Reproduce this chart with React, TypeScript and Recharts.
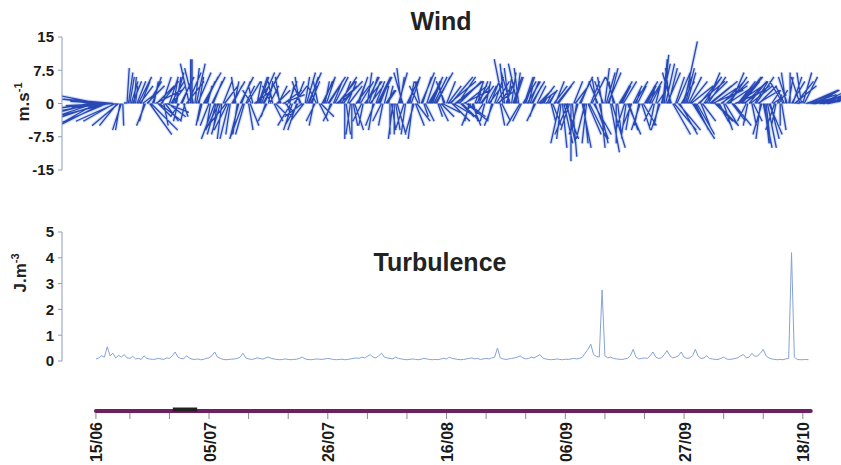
import { ComposedChart, Line, XAxis, YAxis } from "recharts";

const FONT = '"Liberation Sans", Arial, Helvetica, sans-serif';

// wind vectors, one stick every 12 h from 14/06 00h (day -1), m/s
const windStartDay = -1;
const windStepDays = 0.5;
const windU = [
  -6, -8, -7, -10, -9, -11, -12, -10, -11, -9,
  -6, -2, 0.3, 0.5, 1, 2, 0.5, 3, 2, -1,
  4, 5, 2, 6, 3, 4, 1, 5, 2, 3,
  2, -1, 3, 1, 4, -2, 0, 1, 3, -1,
  4, 2, -2, 3, -3, -1, -2, 2, -4, -2,
  3, 1, -1, 3, -3, 2, 1, -2, 4, 1,
  2, 4, -1, 1, -2, 2, 3, -1, 5, 2,
  2, -3, 3, -2, -1, -4, 1, 3, 2, -1,
  -2, 2, 3, 1, 4, -1, 2, 5, 4, 2,
  0, 2, -1, 1, 3, 2, -2, 4, 1, 3,
  -1, 2, 3, -2, 1, 2, 0, -1, 1, 2,
  -1, -2, 3, 1, -1, 2, -2, 3, 1, 2,
  3, 2, 4, 1, 3, -1, 2, 6, 4, 5,
  4, 3, 6, 5, -1, 2, 2, 1, 3, -2,
  1, 3, -1, 2, 4, 1, -2, 2, -1, 1,
  2, -2, -3, 3, 2, 1, 3, -1, 2, 4,
  1, 0.5, 2, 1, 3, 4, -2, 1, 3, -3,
  0, 2, -1, 3, 2, -2, 3, 2, 4, -1,
  2, -1, 1, 3, 2, -1, 0, 3, 2, -2,
  3, -1, 2, 1, -1, 2, 3, 2, 1, -2,
  1, -1, 2, 1, 3, -1, 4, 2, 5, 3,
  3, 2, 4, 5, 3, 6, 2, 4, 3, 5,
  7, 4, 3, 6, 2, 5, 4, 3, 7, 4,
  5, 6, -2, 4, 1, 3, 5, -1, 2, 1,
  3, 2, -2, 1, 0, -3, -1, 1, 3, 5,
  0.5, -2, 2, 6, 7, 8, 6, 5, 7, 4,
  6, 5,
];
const windV = [
  1, -2, -4, 2, -3, -1, -5, -0.5, 1, -4,
  -5, -6, 0.3, 8, 6, 5, 4, 6, 5, -4,
  4, -7, 6, 3, -3, 5, -5, -2, 6, 4,
  7, -4, 6, -3, 5, 9, 10, 8, 7, -5,
  7, 5, -5, 6, -8, -6, -7, 5, -5, -8,
  5, 5, -7, 6, -8, 4, -6, 3, 3, 5,
  6, 7, -3, 5, 4, -4, 3, 6, 2, -2,
  5, -5, 4, -6, 6, -3, 6, 7, 5, -5,
  4, -4, 6, 5, 6, -3, 5, 4, 6, 5,
  -8, 5, -7, -5, 4, 6, -4, 5, 7, 4,
  -6, 5, 6, -4, 4, 3, -7, -8, -6, 7,
  8, -6, 6, 5, -8, -5, 4, 7, -3, 6,
  6, 5, 7, -3, -3, 4, 5, 5, -4, 4,
  6, -3, 3, -4, -4, -5, 5, 4, 4, -3,
  5, 4, -4, 6, 3, -5, 10, 5, 8, 7,
  6, 9, -5, 5, 6, 4, 5, -3, 4, 3,
  2, 0.3, 3, -4, 4, 5, -9, -10, -8, -7,
  -13, 5, -6, 6, -10, -8, -7, 5, -7, 6,
  -9, 6, 8, 7, -11, 5, -9, 5, 4, -6,
  -7, -6, 4, 3, -5, -6, 5, 4, 3, -4,
  4, -5, 9, 11, 7, 8, -7, 6, -6, 5,
  14, 7, 5, -8, -6, 5, -5, 6, 7, 4,
  3, -4, -5, 4, -6, 5, 6, -4, 3, 5,
  6, 4, -4, 5, -5, 5, 3, -8, -10, -9,
  -7, 3, -6, 2, -5, 5, 7, 6, 5, 4,
  0.2, 6, 7, 2, 3, 2, 1, 3, 1, 0.5,
  2, 1,
];
// the 06h / 18h readings in between
const windStartDay2 = -0.75;
const windU2 = [
  -7, -9, -8, -11, -10, -8, -12, -9, -7, -4,
  -1, 0.2, 0.3, 1, 1.5, 0.5, 2, 3, 4, -2,
  3, 6, 1, 4, 5, 2, 3, 4, 3, 1,
  1, -2, 2, -1, 3, 0, -2, 2, 1, -1,
  3, 1, -1, 2, -2, -3, -1, 3, -3, -1,
  2, -1, -2, 2, -2, 3, 2, -1, 3, 2,
  3, 3, -2, 2, -1, 3, 2, -2, 4, 1,
  1, -2, 2, -3, -2, -3, 2, 2, 1, -2,
  -1, 3, 2, 2, 3, -2, 3, 4, 5, 3,
  1, 3, 0, 2, 2, 3, -1, 3, 2, 2,
  -2, 3, 2, -1, 2, 1, 1, 0, 2, 1,
  -2, -1, 2, 2, -2, 3, -1, 2, 2, 3,
  2, 3, 3, 2, 4, -2, 3, 5, 5, 6,
  5, 4, 5, 4, -2, 1, 3, 2, 2, -1,
  2, 2, -2, 3, 3, 2, -1, 1, -2, 2,
  1, -1, -2, 2, 3, 2, 2, -2, 3, 3,
  0.5, 1, 1, 2, 2, 3, -1, 2, 2, -2,
  1, 3, -2, 2, 1, -1, 4, 3, 3, -2,
  1, -2, 2, 2, 3, -2, 1, 2, 3, -1,
  2, -2, 3, 2, -2, 3, 2, 3, 2, -1,
  2, -2, 1, 2, 2, -2, 5, 3, 4, 2,
  2, 3, 5, 4, 4, 5, 3, 5, 4, 6,
  6, 5, 2, 5, 3, 6, 3, 4, 6, 5,
  4, 5, -1, 5, 2, 4, 4, -2, 1, 2,
  2, 3, -1, 2, 1, -2, -2, 0, 2, 4,
  1, -1, 3, 7, 6, 7, 8, 6, 6, 5,
  5, 4,
];
const windV2 = [
  -1, -3, 1, -2, -5, 0.5, -3, -1, -4, -5,
  -6, -5, 0.2, 7, 5, 6, 5, 4, 3, -5,
  5, -6, 5, 4, -4, 6, -4, -3, 5, 6,
  6, -3, 5, -4, 7, 10, 8, 9, 6, -4,
  6, 4, -6, 5, -7, -6, -8, 4, -6, -7,
  4, 6, -8, 5, -7, 5, -5, 4, 4, 6,
  7, 6, -4, 4, 5, -3, 4, 5, 3, -3,
  4, -6, 5, -5, 5, -4, 7, 6, 4, -4,
  5, -3, 5, 6, 5, -4, 6, 5, 5, 4,
  -7, 4, -8, -6, 5, 5, -5, 6, 6, 5,
  -5, 6, 5, -5, 3, 4, -6, -7, -7, 6,
  7, -7, 5, 6, -7, -4, 5, 6, -4, 5,
  5, 6, 6, -4, -2, 5, 4, 6, -3, 5,
  5, -4, 4, -3, -5, -4, 4, 5, 3, -4,
  4, 5, -5, 5, 4, -4, 9, 6, 7, 6,
  7, 8, -4, 6, 5, 5, 4, -4, 3, 4,
  1, 2, 2, -5, 5, 4, -8, -9, -9, -6,
  -12, 4, -7, 5, -9, -9, -8, 6, -8, 5,
  -10, 5, 7, 8, -10, 6, -8, 4, 5, -7,
  -6, -5, 5, 4, -6, -5, 4, 5, 4, -5,
  3, -6, 10, 9, 8, 7, -6, 7, -7, 6,
  8, 6, 4, -7, -7, 6, -4, 5, 6, 5,
  4, -5, -4, 5, -5, 4, 7, -5, 4, 6,
  5, 5, -5, 4, -4, 6, 4, -7, -9, -10,
  -8, 2, -5, 3, -6, 4, 6, 7, 6, 5,
  0.5, 7, 6, 3, 2, 1, 2, 2, 3, 1,
  1, 2,
];

// turbulence, every 12 h from 15/06, J/m3
const turbStartDay = 0;
const turbStepDays = 0.5;
const turbulence = [
  0.08, 0.12, 0.2, 0.15, 0.55, 0.2, 0.3, 0.12, 0.22, 0.15,
  0.25, 0.12, 0.1, 0.18, 0.08, 0.1, 0.06, 0.2, 0.1, 0.08,
  0.06, 0.07, 0.1, 0.08, 0.06, 0.12, 0.1, 0.2, 0.35, 0.15,
  0.1, 0.08, 0.2, 0.12, 0.07, 0.06, 0.08, 0.05, 0.06, 0.1,
  0.12, 0.2, 0.35, 0.15, 0.1, 0.06, 0.05, 0.06, 0.07, 0.08,
  0.1, 0.15, 0.3, 0.12, 0.08, 0.06, 0.08, 0.12, 0.1, 0.07,
  0.12, 0.15, 0.1, 0.08, 0.06, 0.05, 0.06, 0.08, 0.06, 0.05,
  0.06, 0.07, 0.1, 0.15, 0.08, 0.06, 0.05, 0.06, 0.08, 0.07,
  0.06, 0.08, 0.1, 0.08, 0.06, 0.05, 0.06, 0.07, 0.05, 0.06,
  0.08, 0.1, 0.12, 0.1, 0.15, 0.12, 0.18, 0.25, 0.15, 0.12,
  0.2, 0.3, 0.15, 0.12, 0.1, 0.08, 0.15, 0.1, 0.08, 0.06,
  0.05, 0.06, 0.08, 0.06, 0.05, 0.07, 0.1, 0.08, 0.06, 0.05,
  0.06, 0.05, 0.08, 0.1, 0.08, 0.15, 0.1, 0.08, 0.06, 0.05,
  0.06, 0.08, 0.1, 0.12, 0.08, 0.1, 0.06, 0.08, 0.1, 0.08,
  0.12, 0.15, 0.5, 0.12, 0.08, 0.06, 0.08, 0.1, 0.12, 0.15,
  0.2, 0.12, 0.08, 0.1, 0.15, 0.12, 0.18, 0.25, 0.12, 0.08,
  0.06, 0.05, 0.06, 0.08, 0.06, 0.05, 0.07, 0.06, 0.08, 0.1,
  0.08, 0.1, 0.15, 0.3, 0.45, 0.65, 0.25, 0.18, 0.15, 2.75,
  0.2, 0.12, 0.15, 0.1, 0.08, 0.07, 0.06, 0.08, 0.1, 0.2,
  0.45, 0.15, 0.08, 0.1, 0.12, 0.1, 0.2, 0.35, 0.15, 0.1,
  0.12, 0.25, 0.4, 0.2, 0.12, 0.15, 0.2, 0.35, 0.15, 0.1,
  0.12, 0.2, 0.45, 0.18, 0.1, 0.12, 0.2, 0.1, 0.08, 0.06,
  0.06, 0.1, 0.15, 0.08, 0.06, 0.07, 0.1, 0.12, 0.2, 0.25,
  0.12, 0.15, 0.3, 0.18, 0.2, 0.3, 0.45, 0.2, 0.12, 0.08,
  0.06, 0.05, 0.06, 0.05, 0.08, 0.1, 4.2, 0.15, 0.06, 0.05,
  0.05, 0.06, 0.05,
];

// time axis (days since 15/06)
const dateTickDays = [0, 20, 41, 62, 83, 104, 125];
const dateTickLabels = ["15/06", "05/07", "26/07", "16/08", "06/09", "27/09", "18/10"];
const weekTickDays = [6, 13, 27, 34, 48, 55, 69, 76, 90, 97, 111, 118];
const recordSpan = [0, 126.4];
const blackSpan = [13.6, 17.9];

const windTicks = [-15, -7.5, 0, 7.5, 15];
const turbTicks = [0, 1, 2, 3, 4, 5];

// layout
const W = 841;
const AXIS_X = 62;
const X_DOMAIN: [number, number] = [-6, 131.75];
const WIND_PLOT_H = 133;
const pxPerDay = (W - AXIS_X) / (X_DOMAIN[1] - X_DOMAIN[0]);
const pxPerMs = WIND_PLOT_H / 30;
const U_TO_DAYS = pxPerMs / pxPerDay;

// each stick: origin on the zero line, tip at (u, v), then a break
const toSticks = (us: number[], vs: number[], start: number) =>
  us.flatMap((u, i) => {
    const t = start + i * windStepDays;
    return [
      { x: t, y: 0 },
      { x: t + u * U_TO_DAYS, y: vs[i] },
      { x: t, y: null },
    ];
  });

const windSticks = [
  ...toSticks(windU, windV, windStartDay),
  ...toSticks(windU2, windV2, windStartDay2),
];

const turbData = turbulence.map((v, i) => ({ x: turbStartDay + i * turbStepDays, y: v }));

const allTicks = [...dateTickDays, ...weekTickDays].sort((a, b) => a - b);

const tickStyle = { fill: "#1a1a1a", fontSize: 15, fontWeight: 700, fontFamily: FONT };
const axisColor = "#8d9bc0";

const DateTick = ({ x, y, payload }: any) => {
  const idx = dateTickDays.indexOf(payload.value);
  if (idx < 0) return <g />;
  return (
    <text
      x={x + 1}
      y={y}
      transform={`rotate(-90, ${x + 1}, ${y})`}
      textAnchor="end"
      dominantBaseline="central"
      fill="#1a1a1a"
      fontSize={16}
      fontWeight={700}
      fontFamily={FONT}
    >
      {dateTickLabels[idx]}
    </text>
  );
};

export default function App() {
  return (
    <div style={{ position: "absolute", left: 0, top: 0, width: W, height: 465, background: "#fff" }}>
      {/* Wind */}
      <div style={{ position: "absolute", left: 0, top: 0 }}>
        <ComposedChart width={W} height={180} data={windSticks} margin={{ top: 37, right: 0, bottom: 10, left: 0 }}>
          <XAxis dataKey="x" type="number" domain={X_DOMAIN} allowDataOverflow hide />
          <YAxis
            type="number"
            domain={[-15, 15]}
            ticks={windTicks}
            width={AXIS_X}
            axisLine={{ stroke: axisColor }}
            tickLine={{ stroke: axisColor }}
            tickSize={4}
            tickMargin={4}
            tick={tickStyle}
            interval={0}
          />
          <Line dataKey="y" stroke="#6a8fe6" strokeWidth={3.5} strokeOpacity={0.3} dot={false} connectNulls={false} isAnimationActive={false} />
          <Line dataKey="y" stroke="#1437ad" strokeWidth={1.3} strokeOpacity={0.9} dot={false} connectNulls={false} isAnimationActive={false} />
        </ComposedChart>
      </div>

      {/* Turbulence */}
      <div style={{ position: "absolute", left: 0, top: 195 }}>
        <ComposedChart width={W} height={175} data={turbData} margin={{ top: 37, right: 0, bottom: 9, left: 0 }}>
          <XAxis dataKey="x" type="number" domain={X_DOMAIN} allowDataOverflow hide />
          <YAxis
            type="number"
            domain={[0, 5]}
            ticks={turbTicks}
            width={AXIS_X}
            axisLine={{ stroke: axisColor }}
            tickLine={{ stroke: axisColor }}
            tickSize={4}
            tickMargin={4}
            tick={tickStyle}
            interval={0}
          />
          <Line dataKey="y" stroke="#86a3d6" strokeWidth={1} dot={false} isAnimationActive={false} />
        </ComposedChart>
      </div>

      {/* time axis */}
      <div style={{ position: "absolute", left: 0, top: 395 }}>
        <ComposedChart width={W} height={70} margin={{ top: 8, right: 0, bottom: 0, left: AXIS_X }}>
          <XAxis
            dataKey="x"
            type="number"
            domain={X_DOMAIN}
            allowDataOverflow
            ticks={allTicks}
            interval={0}
            height={52}
            axisLine={false}
            tickLine={{ stroke: "#888" }}
            tickSize={6}
            tickMargin={3}
            tick={<DateTick />}
          />
          <YAxis type="number" domain={[0, 1]} hide />
          <Line
            data={recordSpan.map((d) => ({ x: d, y: 0.2 }))}
            dataKey="y"
            stroke="#6e1f63"
            strokeWidth={4}
            strokeLinecap="round"
            dot={false}
            isAnimationActive={false}
          />
          <Line
            data={blackSpan.map((d) => ({ x: d, y: 0.35 }))}
            dataKey="y"
            stroke="#222"
            strokeWidth={4}
            dot={false}
            isAnimationActive={false}
          />
        </ComposedChart>
      </div>

      {/* titles and unit labels */}
      <svg width={W} height={465} style={{ position: "absolute", left: 0, top: 0, pointerEvents: "none" }}>
        <text x={441} y={30} textAnchor="middle" fontSize={25} fontWeight={700} fontFamily={FONT} fill="#222">
          Wind
        </text>
        <text x={440} y={271} textAnchor="middle" fontSize={25} fontWeight={700} fontFamily={FONT} fill="#222">
          Turbulence
        </text>
        <text x={29} y={102} transform="rotate(-90, 29, 102)" textAnchor="middle" fontSize={17} fontWeight={700} fontFamily={FONT} fill="#222">
          m.s<tspan fontSize={11} dy={-7}>-1</tspan>
        </text>
        <text x={26} y={273} transform="rotate(-90, 26, 273)" textAnchor="middle" fontSize={17} fontWeight={700} fontFamily={FONT} fill="#222">
          J.m<tspan fontSize={11} dy={-7}>-3</tspan>
        </text>
      </svg>
    </div>
  );
}
